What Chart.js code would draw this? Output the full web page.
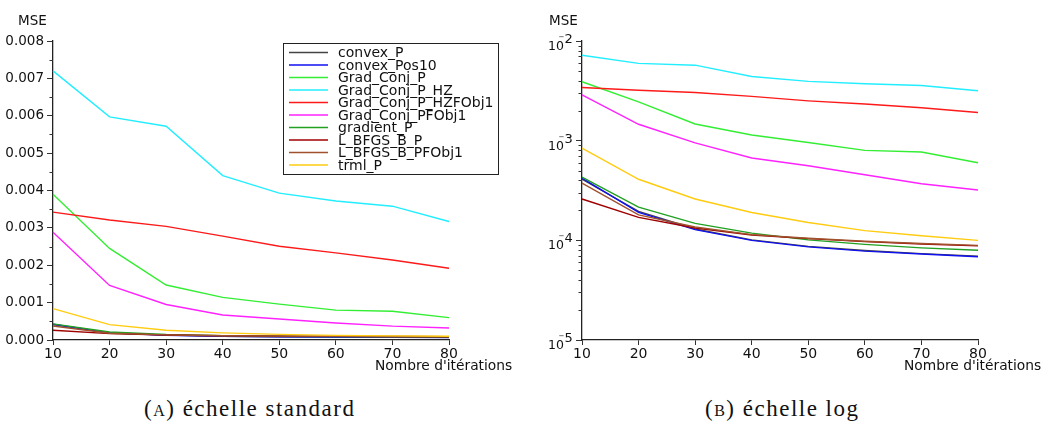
<!DOCTYPE html>
<html>
<head>
<meta charset="utf-8">
<script src="https://cdn.jsdelivr.net/npm/chart.js@4.4.1/dist/chart.umd.min.js"></script>
<style>
  body { margin: 0; background: #fff; width: 1043px; height: 427px; position: relative; overflow: hidden; }
  #chartA { position: absolute; left: 0; top: 0; }
  #chartB { position: absolute; left: 521px; top: 0; }
  .cap { position: absolute; top: 396px; font-family: "Liberation Serif", serif; font-size: 23px; letter-spacing: 1.5px; color: #111; white-space: nowrap; }
  .sc { font-variant: small-caps; }
</style>
</head>
<body>
<canvas id="chartA" width="521" height="380"></canvas>
<canvas id="chartB" width="522" height="380"></canvas>
<div class="cap" style="left:144px">(<span class="sc">a</span>) échelle standard</div>
<div class="cap" style="left:705px">(<span class="sc">b</span>) échelle log</div>
<script>
// MSE per number of iterations, one array per method
const iterations = [10, 20, 30, 40, 50, 60, 70, 80];
const convexP        = [4.1e-4, 1.95e-4, 1.30e-4, 1.01e-4, 8.7e-5, 7.9e-5, 7.35e-5, 6.95e-5];
const convexPos10    = [4.2e-4, 1.91e-4, 1.28e-4, 1.00e-4, 8.6e-5, 7.8e-5, 7.3e-5, 6.85e-5];
const gradConjP      = [3.9e-3, 2.45e-3, 1.47e-3, 1.14e-3, 9.6e-4, 8.0e-4, 7.7e-4, 6.0e-4];
const gradConjPHZ    = [7.2e-3, 5.97e-3, 5.72e-3, 4.4e-3, 3.93e-3, 3.72e-3, 3.58e-3, 3.17e-3];
const gradConjPHZF   = [3.42e-3, 3.21e-3, 3.04e-3, 2.78e-3, 2.51e-3, 2.33e-3, 2.14e-3, 1.92e-3];
const gradConjPFObj1 = [2.88e-3, 1.46e-3, 9.5e-4, 6.7e-4, 5.6e-4, 4.55e-4, 3.7e-4, 3.2e-4];
const gradientP      = [4.3e-4, 2.15e-4, 1.48e-4, 1.18e-4, 1.01e-4, 9.1e-5, 8.4e-5, 7.95e-5];
const lbfgsP         = [2.6e-4, 1.7e-4, 1.33e-4, 1.13e-4, 1.04e-4, 9.7e-5, 9.2e-5, 8.8e-5];
const lbfgsPFObj1    = [3.75e-4, 1.8e-4, 1.36e-4, 1.14e-4, 1.05e-4, 9.8e-5, 9.3e-5, 8.9e-5];
const trmlP          = [8.4e-4, 4.1e-4, 2.6e-4, 1.9e-4, 1.51e-4, 1.25e-4, 1.11e-4, 1.0e-4];

const seriesNames = ['convex_P', 'convex_Pos10', 'Grad_Conj_P', 'Grad_Conj_P_HZ', 'Grad_Conj_P_HZFObj1',
  'Grad_Conj_PFObj1', 'gradient_P', 'L_BFGS_B_P', 'L_BFGS_B_PFObj1', 'trml_P'];
const series = [convexP, convexPos10, gradConjP, gradConjPHZ, gradConjPHZF,
  gradConjPFObj1, gradientP, lbfgsP, lbfgsPFObj1, trmlP];
const lineColors = ['#444444', '#1010f0', '#33ee33', '#22eeff', '#ff1a1a',
  '#ff22ff', '#22a022', '#a00000', '#a0522d', '#ffcc11'];

const linearTicks = [0, 0.001, 0.002, 0.003, 0.004, 0.005, 0.006, 0.007, 0.008];
const linearMinor = [0.0005, 0.0015, 0.0025, 0.0035, 0.0045, 0.0055, 0.0065, 0.0075];
const logTicks = [1e-5, 1e-4, 1e-3, 1e-2];
const logMinor = [];
[1e-5, 1e-4, 1e-3].forEach(d => { for (let k = 2; k <= 9; k++) logMinor.push(k * d); });

Chart.defaults.font.family = '"DejaVu Sans", sans-serif';
Chart.defaults.color = '#111';

function makeDatasets() {
  return series.map((s, i) => ({
    label: seriesNames[i],
    data: s,
    borderColor: lineColors[i],
    borderWidth: 1.4,
    pointRadius: 0,
    tension: 0,
    fill: false,
    order: series.length - i
  }));
}

function drawLegend(chart, ctx) {
  ctx.fillStyle = '#fff';
  ctx.fillRect(283.5, 43.5, 215, 131);
  ctx.strokeStyle = '#222';
  ctx.lineWidth = 1;
  ctx.strokeRect(283.5, 43.5, 215, 131);
  ctx.font = '14px "DejaVu Sans"';
  ctx.textAlign = 'left';
  ctx.textBaseline = 'middle';
  chart.data.datasets.forEach((ds, i) => {
    const ly = 52.5 + i * 12.5;
    ctx.strokeStyle = ds.borderColor;
    ctx.lineWidth = 1.5;
    ctx.beginPath();
    ctx.moveTo(289, ly);
    ctx.lineTo(328, ly);
    ctx.stroke();
    ctx.fillStyle = '#111';
    ctx.fillText(ds.label, 338, ly + 1);
  });
}

// minor ticks, axis captions, log labels and legend
function makeDecor(cfg) {
  return {
    id: 'decor',
    afterDraw(chart) {
      const ctx = chart.ctx;
      const area = chart.chartArea;
      const y = chart.scales.y;
      ctx.save();
      ctx.strokeStyle = '#333';
      ctx.lineWidth = 1;
      cfg.minor.forEach(v => {
        const py = Math.round(y.getPixelForValue(v)) + 0.5;
        ctx.beginPath();
        ctx.moveTo(area.left - 3.5, py);
        ctx.lineTo(area.left, py);
        ctx.stroke();
      });
      ctx.fillStyle = '#111';
      ctx.textAlign = 'left';
      ctx.textBaseline = 'middle';
      ctx.font = '13.5px "DejaVu Sans"';
      ctx.fillText('MSE', area.left + cfg.mseDx, 21);
      ctx.font = '13.8px "DejaVu Sans"';
      ctx.fillText("Nombre d'itérations", area.right - 74, 366);
      if (cfg.powers) {
        const x0 = area.left - 34;
        logTicks.forEach(v => {
          const py = y.getPixelForValue(v);
          const e = String(Math.round(-Math.log10(v)));
          ctx.textBaseline = 'alphabetic';
          ctx.font = '12.5px "DejaVu Sans"';
          ctx.fillText('10', x0, py + 9);
          ctx.font = '7px "DejaVu Sans"';
          ctx.fillText('−', x0 + 10.5, py - 2);
          ctx.font = '13px "DejaVu Sans"';
          ctx.fillText(e, x0 + 16.5, py + 2);
        });
      }
      if (cfg.legend) drawLegend(chart, ctx);
      ctx.restore();
    }
  };
}

function xScale() {
  return {
    type: 'category',
    offset: false,
    grid: { display: true, drawOnChartArea: false, drawTicks: true, tickLength: 5, tickColor: '#333', tickWidth: 1 },
    border: { display: true, color: '#222', width: 1.3 },
    ticks: { font: { size: 14 }, padding: 1, maxRotation: 0, autoSkip: false },
    afterFit(s) { s.height = 40; }
  };
}

new Chart(document.getElementById('chartA'), {
  type: 'line',
  data: { labels: iterations, datasets: makeDatasets() },
  options: {
    responsive: false,
    animation: false,
    devicePixelRatio: 1,
    layout: { padding: { top: 41, right: 72, left: 0, bottom: 0 } },
    plugins: { legend: { display: false }, tooltip: { enabled: false } },
    scales: {
      x: xScale(),
      y: {
        type: 'linear',
        min: 0,
        max: 0.008,
        afterBuildTicks(s) { s.ticks = linearTicks.map(v => ({ value: v })); },
        grid: { display: true, drawOnChartArea: false, drawTicks: true, tickLength: 6, tickColor: '#333', tickWidth: 1 },
        border: { display: true, color: '#222', width: 1.3 },
        ticks: { font: { size: 13.5 }, padding: 3, callback: v => v.toFixed(3) },
        afterFit(s) { s.width = 53; }
      }
    }
  },
  plugins: [makeDecor({ minor: linearMinor, mseDx: -35, legend: true })]
});

new Chart(document.getElementById('chartB'), {
  type: 'line',
  data: { labels: iterations, datasets: makeDatasets() },
  options: {
    responsive: false,
    animation: false,
    devicePixelRatio: 1,
    layout: { padding: { top: 41, right: 65, left: 0, bottom: 0 } },
    plugins: { legend: { display: false }, tooltip: { enabled: false } },
    scales: {
      x: xScale(),
      y: {
        type: 'logarithmic',
        min: 1e-5,
        max: 1e-2,
        afterBuildTicks(s) { s.ticks = logTicks.map(v => ({ value: v })); },
        grid: { display: true, drawOnChartArea: false, drawTicks: true, tickLength: 6, tickColor: '#333', tickWidth: 1 },
        border: { display: true, color: '#222', width: 1.3 },
        ticks: { callback: () => '' },
        afterFit(s) { s.width = 61; }
      }
    }
  },
  plugins: [makeDecor({ minor: logMinor, mseDx: -33, powers: true })]
});
</script>
</body>
</html>
